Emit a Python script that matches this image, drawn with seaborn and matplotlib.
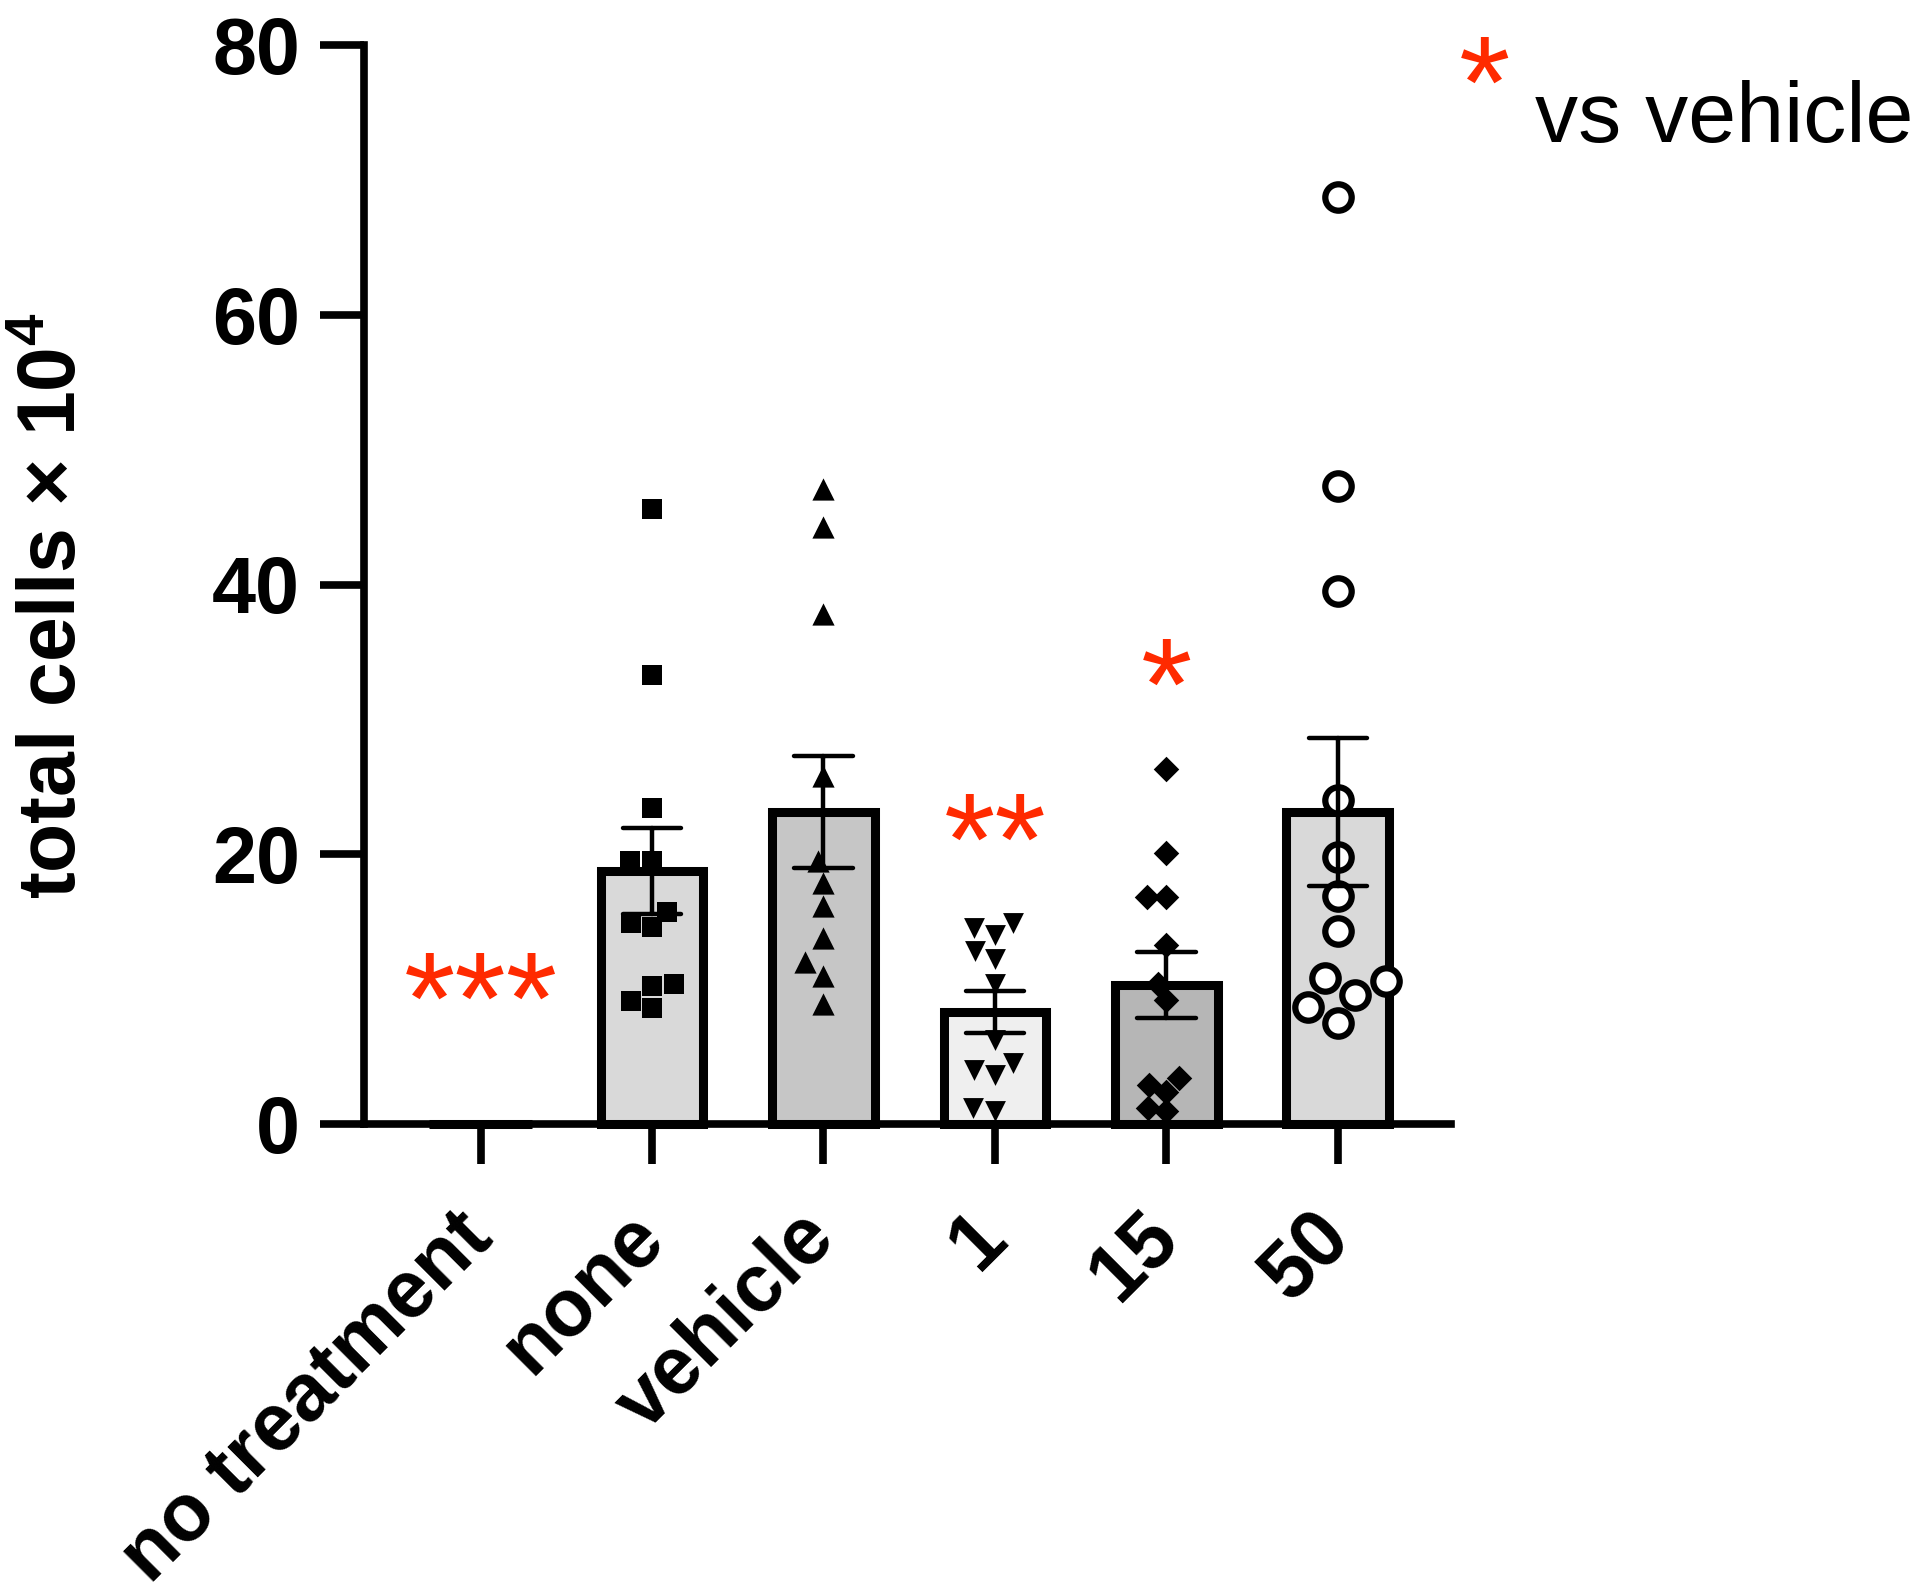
import numpy as np
import pandas as pd
import matplotlib
matplotlib.use("Agg")
import matplotlib.pyplot as plt
import seaborn as sns

# groups on the x axis
groups = ["no treatment", "none", "vehicle", "1", "15", "50"]

# individual values (total cells x 10^4)
no_treatment_vals = [0, 0, 0, 0, 0, 0, 0, 0, 0, 0, 0, 0]
none_vals = [45.6, 33.3, 23.4, 19.5, 19.5, 15.7, 14.9, 14.6, 10.4, 10.2, 9.1, 8.6]
vehicle_vals = [47.1, 44.3, 37.8, 25.8, 19.5, 17.9, 16.2, 13.8, 12.0, 11.0, 8.9]
dose1_vals = [14.9, 14.5, 14.0, 12.8, 12.2, 10.4, 6.2, 4.5, 4.0, 3.6, 1.2, 1.0]
dose15_vals = [26.3, 20.1, 16.8, 16.8, 13.3, 10.4, 9.2, 3.4, 2.9, 2.4, 1.2, 1.0]
dose50_vals = [68.7, 47.3, 39.5, 24.0, 19.8, 16.9, 14.3, 10.8, 10.6, 9.6, 8.7, 7.5]

bar_colors = ["#ffffff", "#d9d9d9", "#c6c6c6", "#efefef", "#b6b6b6", "#d9d9d9"]
markers = [None, "s", "^", "v", "D", "o"]
marker_sizes = [0, 15, 16, 15, 13, 19]

# significance vs vehicle (star centre heights)
sig_labels = ["***", "", "", "**", "*", ""]
sig_heights = [11.6, 0, 0, 23.4, 34.9, 0]

all_vals = [no_treatment_vals, none_vals, vehicle_vals, dose1_vals, dose15_vals, dose50_vals]
df = pd.DataFrame({
    "group": np.repeat(groups, [len(v) for v in all_vals]),
    "value": np.concatenate(all_vals),
})

sns.set_style("ticks")
plt.rcParams["font.family"] = ["Liberation Sans", "DejaVu Sans"]
plt.rcParams["mathtext.fontset"] = "custom"
plt.rcParams["mathtext.rm"] = "Liberation Sans:bold"
plt.rcParams["mathtext.bf"] = "Liberation Sans:bold"
for key in ["text.color", "axes.edgecolor", "axes.labelcolor", "xtick.color", "ytick.color"]:
    plt.rcParams[key] = "black"

fig = plt.figure(figsize=(19.2, 15.95), dpi=100)
ax = fig.add_axes([364 / 1920, 1 - 1124 / 1595, (1451 - 364) / 1920, (1124 - 45) / 1595])

sns.barplot(
    data=df, x="group", y="value", order=groups, hue="group", hue_order=groups,
    palette=bar_colors, legend=False, errorbar="se", capsize=0.34, width=0.6,
    edgecolor="black", linewidth=6.5,
    err_kws={"color": "black", "linewidth": 3.2, "zorder": 4},
    ax=ax,
)
for p in ax.patches:
    p.set_clip_on(False)

for i, g in enumerate(groups):
    if markers[i] is None:
        continue
    sub = df[df["group"] == g]
    face = "white" if markers[i] == "o" else "black"
    sns.swarmplot(
        data=sub, x="group", y="value", order=groups, marker=markers[i],
        size=marker_sizes[i], color=face, edgecolor="black",
        linewidth=4.5 if markers[i] == "o" else 0, ax=ax, zorder=3,
        warn_thresh=1,
    )

star_fs = 95
for i, lab in enumerate(sig_labels):
    if lab:
        ax.annotate(lab, xy=(i, sig_heights[i]), xytext=(0, -0.58 * star_fs),
                    textcoords="offset points", ha="center", va="baseline",
                    fontsize=star_fs, color="#ff2a00", annotation_clip=False)

ax.set_ylim(0, 80)
ax.set_xlim(-0.68, 5.66)
ax.set_yticks([0, 20, 40, 60, 80])
sns.despine(ax=ax)
for s in ["left", "bottom"]:
    ax.spines[s].set_linewidth(5.5)

ax.tick_params(axis="y", length=32, width=5.5, pad=14, labelsize=57)
ax.tick_params(axis="x", length=29, width=5.5, pad=44, labelsize=58)
for lab in ax.get_yticklabels():
    lab.set_fontweight("bold")
ax.set_xticks(range(len(groups)))
ax.set_xticklabels(groups, rotation=45, ha="right", va="center",
                   rotation_mode="anchor", fontweight="bold")

ax.set_xlabel("")
ax.set_ylabel("total cells \u00d7 10$^{4}$", fontsize=58, fontweight="bold")
ax.yaxis.set_label_coords(-0.25, 0.48)

# legend note
fig.text(1485 / 1920, 1 - (51 + 0.58 * star_fs / 0.72) / 1595, "*", ha="center",
         va="baseline", fontsize=star_fs, color="#ff2a00")
fig.text(1535 / 1920, 1 - 142 / 1595, "vs vehicle", ha="left", va="baseline",
         fontsize=62)

fig.savefig("out.png", dpi=100)
